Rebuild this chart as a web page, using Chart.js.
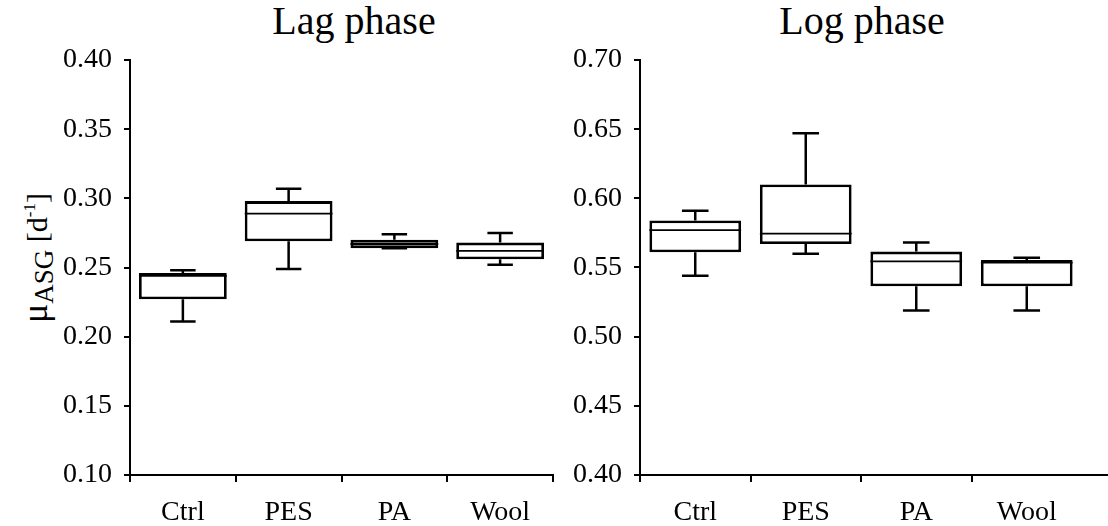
<!DOCTYPE html>
<html>
<head>
<meta charset="utf-8">
<script src="https://cdn.jsdelivr.net/npm/chart.js@4"></script>
<style>
  body { margin: 0; background: white; }
  #wrap { position: relative; width: 1108px; height: 526px; font-family: "Liberation Serif", serif; color: black; }
  .title { position: absolute; top: 1px; font-size: 40px; line-height: 40px; white-space: nowrap; transform: translateX(-50%); }
  #ylab { position: absolute; left: 37px; top: 258px; font-size: 30px; white-space: nowrap; transform: translate(-50%, -50%) rotate(-90deg); }
  #ylab .mu { font-size: 36px; }
  #ylab sub { font-size: 27px; vertical-align: -6px; }
  #ylab sup { font-size: 17px; vertical-align: 12px; }
  canvas { position: absolute; top: 0; }
</style>
</head>
<body>
<div id="wrap">
  <div class="title" style="left:354px">Lag phase</div>
  <div class="title" style="left:862px">Log phase</div>
  <div id="ylab"><span class="mu">μ</span><sub>ASG</sub> [d<sup>-1</sup>]</div>
  <div style="position:absolute;left:0;top:0;width:556px;height:526px"><canvas id="lagChart"></canvas></div>
  <div style="position:absolute;left:556px;top:0;width:552px;height:526px"><canvas id="logChart"></canvas></div>
</div>
<script>
// Box plot values
let categories = ["Ctrl", "PES", "PA", "Wool"];

let lagMin    = [0.211, 0.249, 0.264, 0.252];
let lagQ1     = [0.227, 0.269, 0.264, 0.256];
let lagMedian = [0.244, 0.289, 0.267, 0.262];
let lagQ3     = [0.246, 0.298, 0.270, 0.268];
let lagMax    = [0.248, 0.307, 0.274, 0.275];

let logMin    = [0.544, 0.560, 0.519, 0.519];
let logQ1     = [0.561, 0.567, 0.5365, 0.5365];
let logMedian = [0.577, 0.5745, 0.5545, 0.5535];
let logQ3     = [0.584, 0.610, 0.5615, 0.5555];
let logMax    = [0.591, 0.647, 0.568, 0.557];

let lagTicks = [0.10, 0.15, 0.20, 0.25, 0.30, 0.35, 0.40];
let logTicks = [0.40, 0.45, 0.50, 0.55, 0.60, 0.65, 0.70];

// whiskers and median lines, drawn on top of the floating bars
const boxParts = {
    id: "boxParts",
    afterDatasetsDraw(chart, args, opts) {
        let ctx = chart.ctx;
        let y = chart.scales.y;
        let meta = chart.getDatasetMeta(0);
        ctx.save();
        ctx.strokeStyle = "black";
        meta.data.forEach((bar, i) => {
            let cx = bar.x;
            let half = bar.width / 2;
            let cap = bar.width * 0.145;
            let yMin = y.getPixelForValue(opts.min[i]);
            let yMax = y.getPixelForValue(opts.max[i]);
            let yQ1 = y.getPixelForValue(opts.q1[i]);
            let yQ3 = y.getPixelForValue(opts.q3[i]);
            let yMed = y.getPixelForValue(opts.median[i]);

            ctx.lineWidth = 2.5;
            ctx.beginPath();
            ctx.moveTo(cx, yQ3); ctx.lineTo(cx, yMax);
            ctx.moveTo(cx - cap, yMax); ctx.lineTo(cx + cap, yMax);
            ctx.moveTo(cx, yQ1); ctx.lineTo(cx, yMin);
            ctx.moveTo(cx - cap, yMin); ctx.lineTo(cx + cap, yMin);
            ctx.stroke();

            ctx.lineWidth = 1.8;
            ctx.beginPath();
            ctx.moveTo(cx - half, yMed); ctx.lineTo(cx + half, yMed);
            ctx.stroke();
        });
        ctx.restore();
    }
};

// right panel's x axis runs on to the edge of the picture
const axisExtend = {
    id: "axisExtend",
    afterDraw(chart, args, opts) {
        if (!opts.on) return;
        let ctx = chart.ctx;
        let a = chart.chartArea;
        ctx.save();
        ctx.strokeStyle = "black";
        ctx.lineWidth = 2;
        ctx.beginPath();
        ctx.moveTo(a.right, a.bottom);
        ctx.lineTo(chart.width, a.bottom);
        ctx.stroke();
        ctx.restore();
    }
};

function makeChart(id, q1, q3, median, min, max, ticks, yWidth, rightPad, extend) {
    let font = { family: "'Liberation Serif', serif", size: 28 };
    return new Chart(document.getElementById(id), {
        type: "bar",
        data: {
            labels: categories,
            datasets: [{
                data: q1.map((v, i) => [v, q3[i]]),
                backgroundColor: "white",
                borderColor: "black",
                borderWidth: 2.8,
                borderSkipped: false,
                barPercentage: 0.83,
                categoryPercentage: 1
            }]
        },
        options: {
            responsive: true,
            maintainAspectRatio: false,
            animation: false,
            layout: { padding: { top: 60, right: rightPad, bottom: 0, left: 0 } },
            plugins: {
                legend: { display: false },
                tooltip: { enabled: false },
                boxParts: { q1: q1, q3: q3, median: median, min: min, max: max },
                axisExtend: { on: extend }
            },
            scales: {
                x: {
                    offset: true,
                    grid: {
                        offset: true,
                        drawOnChartArea: false,
                        tickLength: 7,
                        lineWidth: 2,
                        color: c => (extend && c.type === "scale") ? "rgba(0,0,0,0)" : "black"
                    },
                    border: { color: "black", width: 2 },
                    ticks: { color: "black", font: font, padding: 14 },
                    afterFit: s => { s.height = 51; }
                },
                y: {
                    min: ticks[0],
                    max: ticks[ticks.length - 1],
                    afterBuildTicks: s => { s.ticks = ticks.map(v => ({ value: v })); },
                    grid: { drawOnChartArea: false, tickLength: 6, lineWidth: 2, color: "black" },
                    border: { color: "black", width: 2 },
                    ticks: { color: "black", font: font, padding: 12, callback: v => v.toFixed(2) },
                    afterFit: s => { s.width = yWidth; }
                }
            }
        },
        plugins: [boxParts, axisExtend]
    });
}

makeChart("lagChart", lagQ1, lagQ3, lagMedian, lagMin, lagMax, lagTicks, 130, 3, false);
makeChart("logChart", logQ1, logQ3, logMedian, logMin, logMax, logTicks, 84, 26, true);
</script>
</body>
</html>
